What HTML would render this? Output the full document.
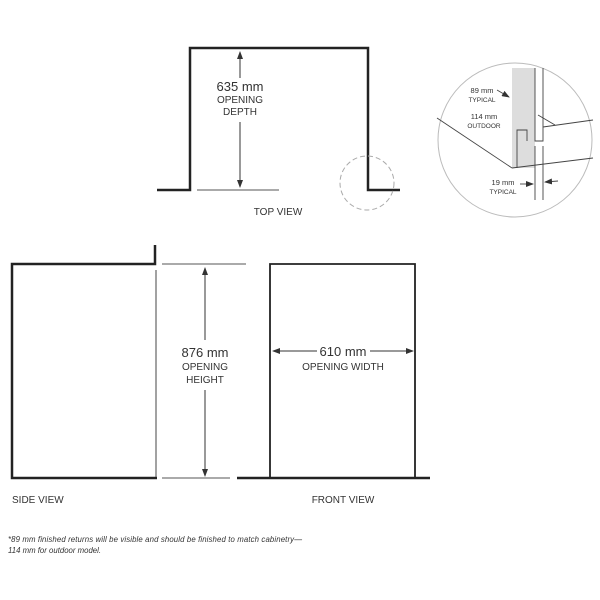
<!DOCTYPE html>
<html><head><meta charset="utf-8"><style>
html,body{margin:0;padding:0;background:#fff;width:600px;height:600px;overflow:hidden}
svg{display:block}
text{font-family:"Liberation Sans",sans-serif;fill:#333}
</style></head><body>
<svg width="600" height="600" viewBox="0 0 600 600">
<defs>
<marker id="a" markerWidth="8" markerHeight="6" refX="7" refY="3" orient="auto" markerUnits="userSpaceOnUse"><path d="M0,0 L8,3 L0,6 z" fill="#333"/></marker>
</defs>
<!-- TOP VIEW -->
<polyline points="157,190 190,190 190,48 368,48 368,190 400,190" fill="none" stroke="#222" stroke-width="2.5"/>
<line x1="197" y1="190" x2="279" y2="190" stroke="#555" stroke-width="1"/>
<line x1="240" y1="78" x2="240" y2="52" stroke="#333" stroke-width="1" marker-end="url(#a)"/>
<line x1="240" y1="122" x2="240" y2="187" stroke="#333" stroke-width="1" marker-end="url(#a)"/>
<text x="240" y="91" font-size="13" text-anchor="middle">635 mm</text>
<text x="240" y="103" font-size="10" text-anchor="middle">OPENING</text>
<text x="240" y="115" font-size="10" text-anchor="middle">DEPTH</text>
<circle cx="367" cy="183" r="27" fill="none" stroke="#aaa" stroke-width="1" stroke-dasharray="5,3"/>
<text x="278" y="215" font-size="10" text-anchor="middle">TOP VIEW</text>
<!-- DETAIL -->
<circle cx="515" cy="140" r="77" fill="none" stroke="#bbb" stroke-width="1"/>
<rect x="512" y="68" width="23" height="100" fill="#ddd"/>
<g stroke="#444" stroke-width="0.9" fill="none">
<line x1="437" y1="118" x2="512" y2="168"/>
<line x1="512" y1="168" x2="593" y2="158"/>
<line x1="543" y1="127" x2="593" y2="120"/>
<polyline points="535,68 535,141 543,141 543,68"/>
<polyline points="517,168 517,130 527,130 527,141"/>
<line x1="535" y1="146" x2="535" y2="200"/>
<line x1="543" y1="146" x2="543" y2="200"/>
<line x1="497" y1="90" x2="509" y2="97" marker-end="url(#a)"/>
<line x1="555" y1="125" x2="538" y2="115"/>
<line x1="520" y1="184" x2="533" y2="184" marker-end="url(#a)"/>
<line x1="558" y1="181" x2="545" y2="182" marker-end="url(#a)"/>
</g>
<text x="482" y="93" font-size="7.5" text-anchor="middle">89 mm</text>
<text x="482" y="102" font-size="6.5" text-anchor="middle">TYPICAL</text>
<text x="484" y="119" font-size="7.5" text-anchor="middle">114 mm</text>
<text x="484" y="128" font-size="6.5" text-anchor="middle">OUTDOOR</text>
<text x="503" y="185" font-size="7.5" text-anchor="middle">19 mm</text>
<text x="503" y="194" font-size="6.5" text-anchor="middle">TYPICAL</text>
<!-- SIDE VIEW -->
<polyline points="155,245 155,264 12,264 12,478 157,478" fill="none" stroke="#222" stroke-width="2.5"/>
<line x1="156" y1="270" x2="156" y2="477" stroke="#444" stroke-width="1"/>
<line x1="162" y1="264" x2="246" y2="264" stroke="#555" stroke-width="1"/>
<line x1="162" y1="478" x2="230" y2="478" stroke="#555" stroke-width="1"/>
<line x1="205" y1="340" x2="205" y2="268" stroke="#333" stroke-width="1" marker-end="url(#a)"/>
<line x1="205" y1="390" x2="205" y2="476" stroke="#333" stroke-width="1" marker-end="url(#a)"/>
<text x="205" y="357" font-size="13" text-anchor="middle">876 mm</text>
<text x="205" y="370" font-size="10" text-anchor="middle">OPENING</text>
<text x="205" y="383" font-size="10" text-anchor="middle">HEIGHT</text>
<text x="12" y="503" font-size="10">SIDE VIEW</text>
<!-- FRONT VIEW -->
<polyline points="270,478 270,264 415,264 415,478" fill="none" stroke="#222" stroke-width="1.8"/>
<line x1="237" y1="478" x2="430" y2="478" stroke="#222" stroke-width="2.5"/>
<line x1="317" y1="351" x2="273" y2="351" stroke="#333" stroke-width="1" marker-end="url(#a)"/>
<line x1="370" y1="351" x2="413" y2="351" stroke="#333" stroke-width="1" marker-end="url(#a)"/>
<text x="343" y="356" font-size="13" text-anchor="middle">610 mm</text>
<text x="343" y="370" font-size="10" text-anchor="middle">OPENING WIDTH</text>
<text x="343" y="503" font-size="10" text-anchor="middle">FRONT VIEW</text>
<!-- footnote -->
<text x="8" y="542" font-size="7.8" font-style="italic" fill="#555" textLength="294">*89 mm finished returns will be visible and should be finished to match cabinetry—</text>
<text x="8" y="553" font-size="7.8" font-style="italic" fill="#555">114 mm for outdoor model.</text>
</svg>
</body></html>
